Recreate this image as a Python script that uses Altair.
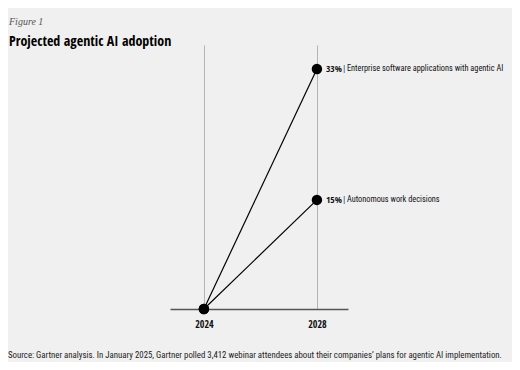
import altair as alt
import pandas as pd

years = [2024, 2028]
series_names = ["Enterprise software applications with agentic AI", "Autonomous work decisions"]
enterprise = [0, 33]
autonomous = [0, 15]
pct_labels = ["33%", "15%"]

rows = []
for name, vals in zip(series_names, [enterprise, autonomous]):
    for yr, v in zip(years, vals):
        rows.append({"series": name, "year": yr, "value": v})
df = pd.DataFrame(rows)

end = pd.DataFrame({
    "series": series_names,
    "year": [years[-1]] * 2,
    "value": [enterprise[-1], autonomous[-1]],
    "pct": pct_labels,
    "bar": ["|"] * 2,
})

COND = "Roboto Condensed, sans-serif"
BOLD = "Open Sans Condensed, Roboto Condensed, sans-serif"

x = alt.X("year:Q", scale=alt.Scale(domain=[2022.8, 2029.1], nice=False, zero=False),
          axis=alt.Axis(values=years, format="d", title=None, grid=True, gridColor="#b4b4b4",
                        gridWidth=1, ticks=False, domainColor="#555555", domainWidth=1.6,
                        labelFont=BOLD, labelFontWeight="bold", labelFontSize=10,
                        labelColor="#111111", labelPadding=10))
y = alt.Y("value:Q", scale=alt.Scale(domain=[0, 36.3], nice=False), axis=None)

lines = alt.Chart(df).mark_line(color="black", strokeWidth=1.2).encode(x=x, y=y, detail="series:N")
pts = alt.Chart(df).mark_circle(color="black", size=110, opacity=1).encode(x=x, y=y)
pct = alt.Chart(end).mark_text(align="left", baseline="middle", dx=9, font=BOLD, fontSize=9.5,
                               fontWeight="bold", color="#111111").encode(x=x, y=y, text="pct:N")
bar = alt.Chart(end).mark_text(align="left", baseline="middle", dx=26, font=COND, fontSize=9.5,
                               color="#1f3f8a").encode(x=x, y=y, text="bar:N")
rest = alt.Chart(end).mark_text(align="left", baseline="middle", dx=30, font=COND, fontSize=8.3,
                                color="#111111").encode(x=x, y=y, text="series:N")

fig = alt.Chart(pd.DataFrame({"t": ["Figure 1"]})).mark_text(
    align="left", baseline="middle", font="Liberation Serif, DejaVu Serif, serif", fontStyle="italic",
    fontSize=10, color="#555555").encode(x=alt.value(-161), y=alt.value(-23), text="t:N")
title = alt.Chart(pd.DataFrame({"t": ["Projected agentic AI adoption"]})).mark_text(
    align="left", baseline="middle", font=BOLD, fontWeight="bold",
    fontSize=14, color="#000000").encode(x=alt.value(-161), y=alt.value(-3), text="t:N")
source = alt.Chart(pd.DataFrame({"t": ["Source: Gartner analysis. In January 2025, Gartner polled 3,412 webinar attendees about their companies\u2019 plans for agentic AI implementation."]})).mark_text(
    align="left", baseline="middle", font="Roboto Condensed, sans-serif", fontSize=8.8, color="#222222").encode(
    x=alt.value(-162), y=alt.value(310), text="t:N")

chart = alt.layer(lines, pts, pct, bar, rest, fig, title, source).properties(
    width=178, height=264,
    autosize=alt.AutoSizeParams(type="none"),
    padding={"left": 162, "top": 37, "right": 164, "bottom": 53},
    background="#f0f0f0",
).configure_view(stroke=None)

chart.save("out.html", embed_options={"renderer": "svg", "actions": False})
